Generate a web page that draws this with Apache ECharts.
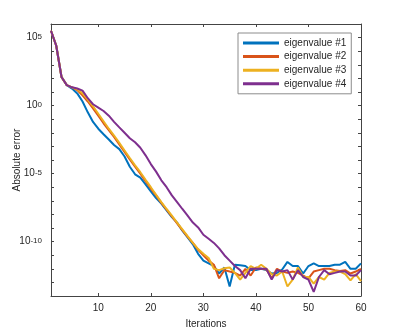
<!DOCTYPE html>
<html>
<head>
<meta charset="utf-8">
<script src="https://cdn.jsdelivr.net/npm/echarts@6/dist/echarts.min.js"></script>
<style>
  html, body { margin: 0; padding: 0; background: #fff; }
  #chart { width: 399px; height: 332px; }
</style>
</head>
<body>
<div id="chart"></div>
<script>
// iterations 1..60
var iterations = [];
for (var i = 1; i <= 60; i++) iterations.push(i);

var names = ['eigenvalue #1', 'eigenvalue #2', 'eigenvalue #3', 'eigenvalue #4'];
var colors = ['#0072BD', '#D95319', '#EDB120', '#7E2F8E'];

// absolute error per iteration
var err1 = [3.2e5, 2.5e4, 126, 32, 17.8, 7.9, 2.0, 0.32, 0.063, 0.02,
  7.9e-3, 3.2e-3, 1.26e-3, 6.3e-4, 1.8e-4, 3.2e-5, 8.9e-6, 5e-6, 1.6e-6, 5e-7,
  1.6e-7, 6.3e-8, 2e-8, 6.3e-9, 2.5e-9, 6.3e-10, 2e-10, 6.3e-11, 1.26e-11, 4e-12,
  2.5e-12, 1.6e-12, 4.5e-13, 1.26e-12, 5e-14, 2e-12, 1.8e-12, 1.6e-12, 8e-13, 8e-13,
  1e-12, 8e-13, 4.5e-13, 5e-13, 8.9e-13, 3.2e-12, 1.6e-12, 1.6e-12, 4.5e-13, 1.6e-12,
  2.5e-12, 1.6e-12, 1.6e-12, 1.6e-12, 2e-12, 2e-12, 3.2e-12, 1e-12, 1e-12, 2.5e-12];
var err2 = [3.2e5, 2.5e4, 126, 32, 22, 14, 5.6, 2.0, 0.63, 0.18,
  0.05, 0.016, 5e-3, 1.4e-3, 4e-4, 1.1e-4, 3.2e-5, 1e-5, 2.8e-6, 8e-7,
  2.5e-7, 7e-8, 2.2e-8, 7e-9, 2.2e-9, 7e-10, 2.2e-10, 8e-11, 2.5e-11, 1e-11,
  4e-12, 2e-12, 2e-13, 8e-13, 6.3e-13, 5e-13, 3.2e-13, 1e-12, 3.2e-13, 1.26e-12,
  1e-12, 8.9e-13, 2e-13, 1e-12, 6.3e-13, 5e-13, 6.3e-13, 5e-13, 3.2e-13, 2e-13,
  6.3e-13, 8e-13, 1e-12, 1e-12, 8e-13, 7e-13, 8e-13, 4.5e-13, 6.3e-13, 1e-12];
var err3 = [3.2e5, 2.5e4, 126, 32, 22, 16, 7.9, 2.8, 0.89, 0.25,
  0.071, 0.02, 6.3e-3, 1.8e-3, 5e-4, 1.4e-4, 4e-5, 1.26e-5, 3.5e-6, 1e-6,
  2.8e-7, 8e-8, 2.5e-8, 8e-9, 2.5e-9, 8e-10, 2.5e-10, 8e-11, 2.8e-11, 1.26e-11,
  6.3e-12, 1e-12, 8e-13, 1.1e-12, 1.26e-12, 5e-13, 1.6e-13, 5e-13, 1.6e-12, 1e-12,
  2e-12, 1e-12, 4e-13, 3.2e-13, 6.3e-13, 5e-14, 1.6e-13, 1.26e-12, 2.5e-13, 2.5e-13,
  8e-14, 2.5e-13, 1.6e-13, 5e-13, 6.3e-13, 6.3e-13, 4e-13, 1.4e-13, 4e-13, 1.26e-13];
var err4 = [3.2e5, 2.5e4, 126, 32, 22, 18, 12.6, 3.5, 1.26, 0.71,
  0.4, 0.18, 0.063, 0.025, 0.01, 4e-3, 2e-3, 8e-4, 2.2e-4, 5e-5,
  1.4e-5, 3.2e-6, 1e-6, 2.5e-7, 8e-8, 2.5e-8, 8e-9, 2.5e-9, 1.1e-9, 3.2e-10,
  1.6e-10, 8e-11, 3.2e-11, 1e-11, 4e-12, 1.6e-12, 8e-13, 2e-13, 1e-12, 1e-12,
  1e-12, 1e-12, 1.6e-13, 8e-13, 6.3e-13, 8e-13, 1.6e-13, 8e-13, 2.5e-13, 1.6e-13,
  2e-14, 2.5e-13, 8e-13, 4e-13, 5e-13, 6.3e-13, 6.3e-13, 3.2e-13, 3.2e-13, 8e-13];

var xTicks = [10, 20, 30, 40, 50, 60];
var yTicks = [1e-14, 1e-13, 1e-12, 1e-11, 1e-10, 1e-9, 1e-8, 1e-7, 1e-6, 1e-5, 1e-4,
  1e-3, 1e-2, 1e-1, 1, 10, 100, 1e3, 1e4, 1e5, 1e6];
var yLabels = [1e-10, 1e-5, 1, 1e5];
var allErr = [err1, err2, err3, err4];

var axisColor = '#444';
var textColor = '#262626';
var font = 'Liberation Sans, Arial, Helvetica, sans-serif';

function pairs(arr) {
  return arr.map(function (v, idx) { return [iterations[idx], v]; });
}

var series = allErr.map(function (arr, idx) {
  return {
    name: names[idx],
    type: 'line',
    xAxisIndex: 0,
    yAxisIndex: 0,
    data: pairs(arr),
    symbol: 'none',
    lineStyle: { color: colors[idx], width: 2 },
    itemStyle: { color: colors[idx] },
    z: 2 + idx
  };
});

function yLabel(v) {
  var e = Math.round(Math.log10(v));
  if (e % 5 !== 0) return '';
  return '{b|10}{s|' + e + '}';
}

var option = {
  animation: false,
  backgroundColor: '#fff',
  textStyle: { fontFamily: font },
  grid: { left: 51, top: 24, right: 38, bottom: 36, containLabel: false, outerBoundsMode: 'none' },
  legend: {
    data: names,
    left: 238,
    top: 33,
    orient: 'vertical',
    icon: 'rect',
    itemWidth: 36,
    itemHeight: 3,
    itemGap: 1.6,
    padding: [4, 5, 4, 5],
    backgroundColor: '#fff',
    borderColor: '#8c8c8c',
    borderWidth: 1,
    textStyle: { color: textColor, fontSize: 10, lineHeight: 12, fontFamily: font }
  },
  xAxis: [{
    type: 'value',
    min: 1,
    max: 60,
    name: 'Iterations',
    nameLocation: 'middle',
    nameGap: 23,
    nameMoveOverlap: false,
    nameTextStyle: { color: textColor, fontSize: 10, fontFamily: font },
    axisLine: { show: true, onZero: false, lineStyle: { color: axisColor, width: 1 } },
    axisTick: { show: true, inside: true, length: 3, customValues: xTicks, lineStyle: { color: axisColor } },
    axisLabel: { show: true, customValues: xTicks, margin: 7, color: textColor, fontSize: 10, fontFamily: font },
    splitLine: { show: false }
  }, {
    type: 'value',
    position: 'top',
    min: 1,
    max: 60,
    axisLine: { show: true, onZero: false, lineStyle: { color: axisColor, width: 1 } },
    axisTick: { show: true, inside: true, length: 3, customValues: xTicks, lineStyle: { color: axisColor } },
    axisLabel: { show: false },
    splitLine: { show: false }
  }],
  yAxis: [{
    type: 'log',
    logBase: 10,
    min: 1e-14,
    max: 1e6,
    name: 'Absolute error',
    nameLocation: 'middle',
    nameGap: 29,
    nameMoveOverlap: false,
    nameTextStyle: { color: textColor, fontSize: 10, fontFamily: font },
    axisLine: { show: true, onZero: false, lineStyle: { color: axisColor, width: 1 } },
    axisTick: { show: true, inside: true, length: 3, customValues: yTicks, lineStyle: { color: axisColor } },
    axisLabel: {
      show: true,
      customValues: yLabels,
      margin: 9,
      formatter: yLabel,
      rich: {
        b: { fontSize: 10, color: textColor, fontFamily: font, lineHeight: 10, verticalAlign: 'bottom' },
        s: { fontSize: 8, color: textColor, fontFamily: font, lineHeight: 8, verticalAlign: 'top', padding: [0, 0, 8, 0] }
      }
    },
    splitLine: { show: false }
  }, {
    type: 'log',
    logBase: 10,
    position: 'right',
    min: 1e-14,
    max: 1e6,
    axisLine: { show: true, onZero: false, lineStyle: { color: axisColor, width: 1 } },
    axisTick: { show: true, inside: true, length: 3, customValues: yTicks, lineStyle: { color: axisColor } },
    axisLabel: { show: false },
    splitLine: { show: false }
  }],
  series: series
};

var chart = echarts.init(document.getElementById('chart'), null, { renderer: 'canvas' });
chart.setOption(option);
</script>
</body>
</html>
